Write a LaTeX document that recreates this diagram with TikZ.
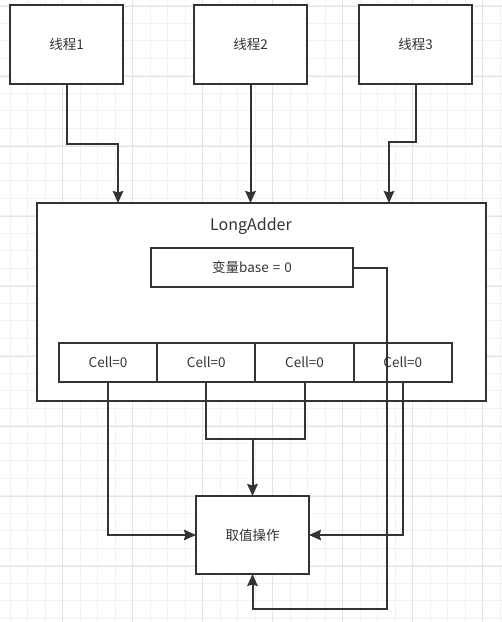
\documentclass[tikz,border=0pt]{standalone}
\usepackage{fontspec}
\usepackage{xcolor}
\usepackage{tikz}
\usetikzlibrary{arrows.meta,positioning}
\newfontfamily\cjk{Noto Sans CJK SC}
\definecolor{Ink}{HTML}{333333}
\definecolor{Grid}{HTML}{F2F2F2}
\definecolor{GridMajor}{HTML}{E3E3E3}

\begin{document}
\begin{tikzpicture}[x=1pt, y=-1pt, font=\cjk\fontsize{13.5}{16}\selectfont, text=Ink,
  box/.style={draw=Ink, line width=2pt, fill=white, inner sep=0pt, outer sep=0pt},
  cellbox/.style={box, minimum width=98.25pt, minimum height=39pt},
  wire/.style={draw=Ink, line width=2pt},
  arr/.style={wire, -{Stealth[length=12pt, width=10.5pt, inset=1.5pt]}}]
  \useasboundingbox (0,0) rectangle (502,622);
  % grid
  \fill[white] (0,0) rectangle (502,622);
  \foreach \k in {0,...,28} \draw[Grid, line width=0.9pt] (10+17.5*\k,0) -- (10+17.5*\k,622);
  \foreach \k in {0,...,35} \draw[Grid, line width=0.9pt] (0,5.8+17.5*\k) -- (502,5.8+17.5*\k);
  \foreach \k in {0,...,6} \draw[GridMajor, line width=0.9pt] (62.5+70*\k,0) -- (62.5+70*\k,622);
  \foreach \k in {0,...,8} \draw[GridMajor, line width=0.9pt] (0,6+70*\k) -- (502,6+70*\k);

  \node[box, minimum width=113pt, minimum height=79pt] (t1) at (66.5,44.5) {线程1};
  \node[box, minimum width=113pt, minimum height=79pt] (t2) at (250.5,44.5) {线程2};
  \node[box, minimum width=113pt, minimum height=79pt] (t3) at (415.5,44.5) {线程3};

  \node[box, minimum width=449pt, minimum height=198pt] (la) at (261.5,302) {};
  \node[font=\cjk\fontsize{16}{19}\selectfont] (title) at (251,226) {LongAdder};
  \node[box, minimum width=202pt, minimum height=39pt] (base) at (252,267.5) {变量base\hspace{4pt}=\hspace{4pt}0};
  \node[cellbox] (c1) at (108.1,362.5) {Cell=0};
  \node[cellbox, right=0pt of c1] (c2) {Cell=0};
  \node[cellbox, right=0pt of c2] (c3) {Cell=0};
  \node[cellbox, right=0pt of c3] (c4) {Cell=0};

  \node[box, minimum width=113pt, minimum height=78pt] (op) at (252.5,535) {取值操作};

  \coordinate (in1) at (118,203);
  \coordinate (in3) at (389,203);
  \coordinate (j) at (252.5,439);
  \coordinate (b1) at (387,609);

  \draw[arr] (t1.south) -- ++(0,60) -| (in1);
  \draw[arr] (t2.south) -- (t2.south |- la.north);
  \draw[arr] (t3.south) -- ++(0,58) -| (in3);

  \draw[arr] (c1.south) |- (op.west);
  \draw[arr] (c4.south) |- (op.east);
  \draw[wire] (c2.south) |- (j) -| (c3.south);
  \draw[arr] (j) -- (op.north);
  \draw[arr] (base.east) -| (b1) -| (op.south);
\end{tikzpicture}
\end{document}
